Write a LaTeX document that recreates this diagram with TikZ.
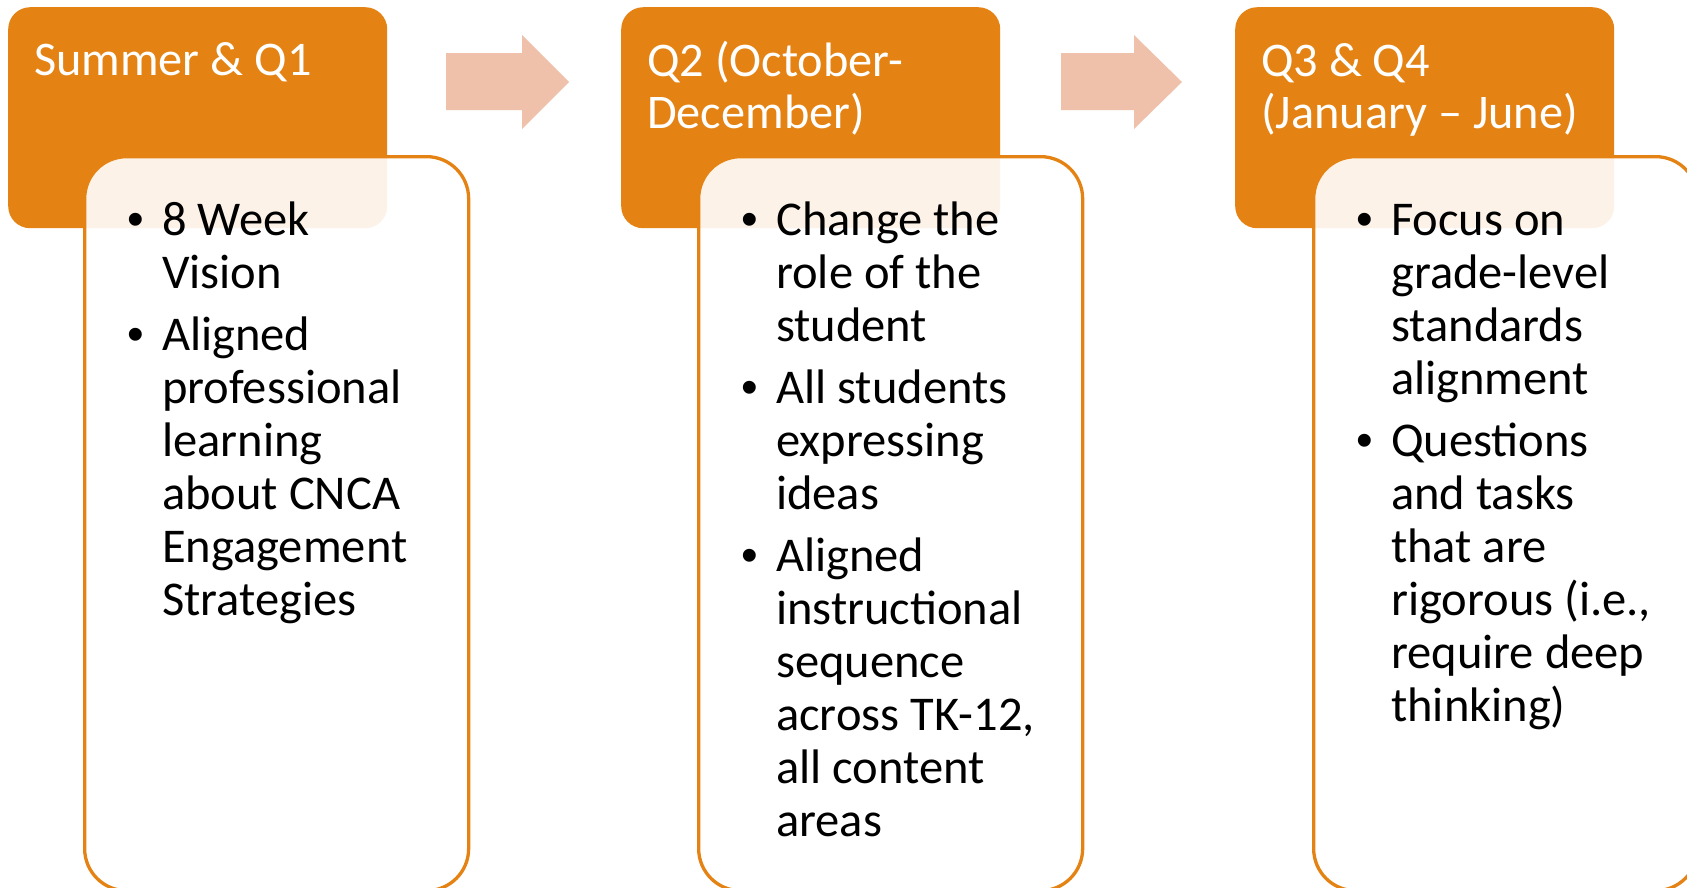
\documentclass[tikz,border=0pt]{standalone}
\usepackage{fontspec}
\setmainfont{Carlito}
\newfontfamily\bulfont{Liberation Sans}
\definecolor{hdr}{HTML}{E48313}
\definecolor{arr}{HTML}{F0C1AA}
\begin{document}
\begin{tikzpicture}[x=1pt,y=-1pt,
  hdrbox/.style={fill=hdr, rounded corners=22pt, minimum width=379pt, minimum height=221pt, anchor=north west, inner sep=0pt},
  bodybox/.style={draw=hdr, line width=3.3pt, fill=white, fill opacity=0.9, draw opacity=1, rounded corners=42pt, minimum width=384pt, minimum height=734pt, anchor=north west, inner sep=0pt},
  hdrtext/.style={anchor=base west, text=white, font=\fontsize{48.3}{52}\selectfont, align=left, inner sep=0pt},
  bodytext/.style={anchor=base west, text=black, font=\fontsize{48.5}{53}\selectfont, align=left, inner sep=0pt},
  bul/.style={anchor=base, text=black, font=\bulfont\fontsize{47.5}{53}\selectfont, inner sep=0pt},
  arrowshape/.style={fill=arr}]
\useasboundingbox (0,0) rectangle (1687,887);
\clip (0,0) rectangle (1687,887);
% headers
\node[hdrbox] (h1) at (8,7) {};
\node[hdrbox] (h2) at (621,7) {};
\node[hdrbox] (h3) at (1235,7) {};
% arrows
\fill[arrowshape] (446,53) -- (522,53) -- (522,35) -- (569,82) -- (522,129) -- (522,110) -- (446,110) -- cycle;
\fill[arrowshape] (1061,53) -- (1134,53) -- (1134,35) -- (1182,82) -- (1134,129) -- (1134,110) -- (1061,110) -- cycle;
% header texts (anchor = baseline of last line)
\node[hdrtext] (t1) at (34,75) {Summer \& Q1};
\node[hdrtext] (t2) at (647,128) {Q2 (October-\\December)};
\node[hdrtext] (t3) at (1261,128) {Q3 \& Q4\\(January – June)};
% body boxes
\node[bodybox] (c1) at (83,155) {};
\node[bodybox] (c2) at (697,155) {};
\node[bodybox] (c3) at (1312,155) {};
% column 1
\node[bul] (b11) at (136,235) {•};
\node[bodytext] (x11) at (162,288) {8 Week\\Vision};
\node[bul] (b12) at (136,350) {•};
\node[bodytext] (x12) at (162,615) {Aligned\\professional\\learning\\about CNCA\\Engagement\\Strategies};
% column 2
\node[bul] (b21) at (750,235) {•};
\node[bodytext] (x21) at (776,341) {Change the\\role of the\\student};
\node[bul] (b22) at (750,403) {•};
\node[bodytext] (x22) at (776,509) {All students\\expressing\\ideas};
\node[bul] (b23) at (750,571) {•};
\node[bodytext] (x23) at (776,836) {Aligned\\instructional\\sequence\\across TK-12,\\all content\\areas};
% column 3
\node[bul] (b31) at (1365,235) {•};
\node[bodytext] (x31) at (1391,394) {Focus on\\grade-level\\standards\\alignment};
\node[bul] (b32) at (1365,456) {•};
\node[bodytext] (x32) at (1391,721) {Questions\\and tasks\\that are\\rigorous (i.e.,\\require deep\\thinking)};
\end{tikzpicture}
\end{document}
